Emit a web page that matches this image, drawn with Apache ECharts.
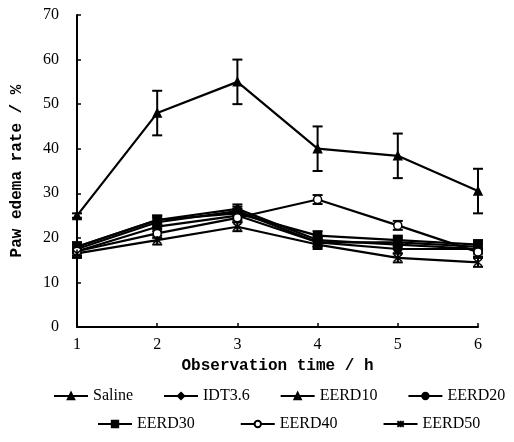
<!DOCTYPE html>
<html>
<head>
<meta charset="utf-8">
<script src="https://cdn.jsdelivr.net/npm/echarts@6/dist/echarts.min.js"></script>
<style>
  html, body { margin: 0; padding: 0; background: #fff; }
  #chart { width: 514px; height: 442px; }
</style>
</head>
<body>
<div id="chart"></div>
<script>
// 观察时间 (h)
var hours = ['1', '2', '3', '4', '5', '6'];
// 各组足肿胀率 (%)
var saline = [25, 48, 55, 40, 38.4, 30.5];
var idt36  = [18, 24, 26.5, 19.5, 18.5, 17.5];
var eerd10 = [17.5, 23.5, 26, 19, 19, 18];
var eerd20 = [17, 22.5, 25, 19, 17.5, 17.5];
var eerd30 = [18, 24, 25.5, 20.5, 19.5, 18.5];
var eerd40 = [17, 21, 24.5, 28.6, 22.8, 16.8];
var eerd50 = [16.5, 19.5, 22.5, 18.5, 15.5, 14.5];
// 误差（标准差）
var salineErr = [0.5, 5, 5, 5, 5, 5];
var smallErr  = [1, 1, 1, 1, 1, 1];
var yTicks = [0, 10, 20, 30, 40, 50, 60, 70];

var groups = [
  { name: 'Saline', data: saline, err: salineErr, symbol: 'triangle', fill: '#000' },
  { name: 'IDT3.6', data: idt36, err: smallErr, symbol: 'diamond', fill: '#000' },
  { name: 'EERD10', data: eerd10, err: smallErr, symbol: 'triangle', fill: '#000' },
  { name: 'EERD20', data: eerd20, err: smallErr, symbol: 'circle', fill: '#000' },
  { name: 'EERD30', data: eerd30, err: smallErr, symbol: 'rect', fill: '#000' },
  { name: 'EERD40', data: eerd40, err: smallErr, symbol: 'circle', fill: '#fff' },
  { name: 'EERD50', data: eerd50, err: smallErr, symbol: 'path://M-1,-1L1,1M1,-1L-1,1M0,-1.2L0,1.2', fill: '#000' }
];

var chart = echarts.init(document.getElementById('chart'));
var serif = '"Liberation Serif", "DejaVu Serif", serif';
var mono = '"Liberation Mono", "DejaVu Sans Mono", monospace';

var series = [];
groups.forEach(function (g) {
  //误差线
  series.push({
    type: 'custom',
    name: g.name + '_err',
    silent: true,
    z: 1,
    data: g.data.map(function (v, i) { return [i, v - g.err[i], v + g.err[i]]; }),
    renderItem: function (params, api) {
      var lo = api.coord([api.value(0), api.value(1)]);
      var hi = api.coord([api.value(0), api.value(2)]);
      var w = 5;
      var st = { stroke: '#000', lineWidth: 2 };
      return {
        type: 'group',
        children: [
          { type: 'line', shape: { x1: lo[0], y1: lo[1], x2: hi[0], y2: hi[1] }, style: st },
          { type: 'line', shape: { x1: lo[0] - w, y1: lo[1], x2: lo[0] + w, y2: lo[1] }, style: st },
          { type: 'line', shape: { x1: hi[0] - w, y1: hi[1], x2: hi[0] + w, y2: hi[1] }, style: st }
        ]
      };
    }
  });
  series.push({
    type: 'line',
    name: g.name,
    data: g.data,
    z: 3,
    symbol: g.symbol,
    symbolSize: 8,
    showAllSymbol: true,
    lineStyle: { color: '#000', width: 2.2 },
    itemStyle: { color: g.fill, borderColor: '#000', borderWidth: 1.5 }
  });
});

var legendText = { fontFamily: serif, fontSize: 16, color: '#000' };

chart.setOption({
  animation: false,
  backgroundColor: '#fff',
  grid: { left: 77, right: 36, top: 15, bottom: 115 },
  legend: [
    {
      data: ['Saline', 'IDT3.6', 'EERD10', 'EERD20'],
      top: 383, left: 48, right: 0,
      itemWidth: 34, itemHeight: 8, itemGap: 30,
      textStyle: legendText
    },
    {
      data: ['EERD30', 'EERD40', 'EERD50'],
      top: 411, left: 92, right: 0,
      itemWidth: 34, itemHeight: 8, itemGap: 45,
      textStyle: legendText
    }
  ],
  xAxis: {
    type: 'category',
    data: hours,
    boundaryGap: false,
    name: 'Observation time / h',
    nameLocation: 'middle',
    nameGap: 31,
    nameTextStyle: { fontFamily: mono, fontSize: 16, fontWeight: 'bold', color: '#000' },
    axisLine: { lineStyle: { color: '#000', width: 2 } },
    axisTick: { inside: true, length: 4, lineStyle: { color: '#000', width: 1.5 } },
    axisLabel: { fontFamily: serif, fontSize: 16, color: '#000', margin: 10 },
    splitLine: { show: false }
  },
  yAxis: {
    type: 'value',
    min: yTicks[0],
    max: yTicks[yTicks.length - 1],
    interval: 10,
    name: 'Paw edema rate / %',
    nameLocation: 'middle',
    nameGap: 52,
    nameRotate: 90,
    nameTextStyle: { fontFamily: mono, fontSize: 16, fontWeight: 'bold', color: '#000' },
    axisLine: { show: true, lineStyle: { color: '#000', width: 2 } },
    axisTick: { show: true, inside: true, length: 4, lineStyle: { color: '#000', width: 1.5 } },
    axisLabel: { fontFamily: serif, fontSize: 16, color: '#000', margin: 18 },
    splitLine: { show: false }
  },
  series: series
});
</script>
</body>
</html>
